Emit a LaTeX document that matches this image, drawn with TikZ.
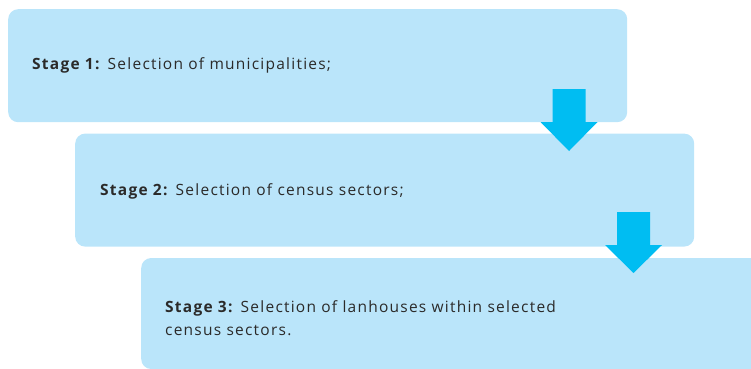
\documentclass[tikz,border=0pt]{standalone}
\usepackage{fontspec}
\setmainfont[LetterSpace=8]{Open Sans}
\usetikzlibrary{positioning}
\definecolor{boxblue}{HTML}{BAE5FA}
\definecolor{flowblue}{HTML}{00BDF2}
\definecolor{inkgray}{HTML}{2B2A29}
\tikzset{
    %Define style for stage boxes
    stagebox/.style={
           rectangle,
           rounded corners=10pt,
           fill=boxblue,
           draw=none,
           inner sep=0pt,
           minimum width=619pt,
           minimum height=113pt},
    %Define style for stage texts
    stagetext/.style={
           inner sep=0pt,
           text=inkgray,
           align=left,
           font=\fontsize{15.5}{23}\selectfont},
    % Define block arrow style
    flow/.style={
           fill=flowblue,
           draw=none}
}
\begin{document}
\begin{tikzpicture}[x=1pt,y=1pt]
 \useasboundingbox (0,0) rectangle (751,368);
 %nodes
    \node[stagebox, anchor=north west] (s1) at (8,359) {};
    \node[stagebox, anchor=north west] (s2) at ([xshift=67pt,yshift=-11pt]s1.south west) {};
    \node[stagebox, anchor=north west, minimum width=621pt, minimum height=111pt] (s3) at ([xshift=66pt,yshift=-11pt]s2.south west) {};
    \node[stagetext, anchor=base west] (t1) at (32,299) {\textbf{Stage 1:} Selection of municipalities;};
    \node[stagetext, anchor=base west] (t2) at (100,173) {\textbf{Stage 2:} Selection of census sectors;};
    \node[stagetext, anchor=base west] (t3) at (165,33) {\textbf{Stage 3:} Selection of lanhouses within selected\\census sectors.};
 %edges
    \coordinate (a1) at (569,279);
    \coordinate (a2) at (633.5,156);
    \fill[flow] (a1) ++(-16.5,0) -- ++(33,0) -- ++(0,-33) -- ++(12,0) -- ++(-28.5,-29) -- ++(-28.5,29) -- ++(12,0) -- cycle;
    \fill[flow] (a2) ++(-16.5,0) -- ++(33,0) -- ++(0,-33) -- ++(12,0) -- ++(-28.5,-28) -- ++(-28.5,28) -- ++(12,0) -- cycle;
\end{tikzpicture}
\end{document}
